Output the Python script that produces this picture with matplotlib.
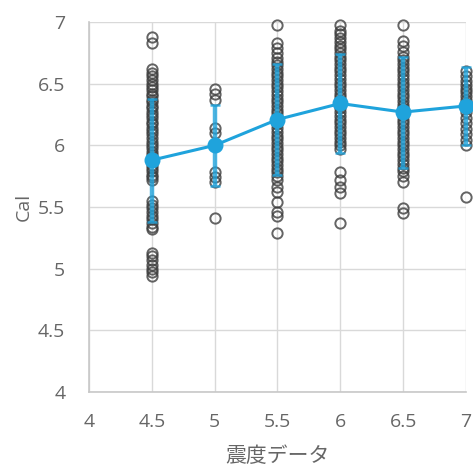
import matplotlib
matplotlib.use("Agg")
import matplotlib.pyplot as plt

# Seismic intensity groups and the Cal readings recorded in each
intensity = [4.5, 5.0, 5.5, 6.0, 6.5, 7.0]

cal_45 = [6.88, 6.83, 6.62, 6.59, 6.56, 6.53, 6.50, 6.47, 6.45, 6.42, 6.40, 6.37,
          6.35, 6.32, 6.30, 6.27, 6.25, 6.22, 6.19, 6.17, 6.14, 6.12, 6.09, 6.06,
          6.03, 6.00, 5.98, 5.95, 5.92, 5.90, 5.87, 5.84, 5.82, 5.79, 5.76, 5.74,
          5.72, 5.55, 5.52, 5.49, 5.46, 5.43, 5.40, 5.37, 5.34, 5.32,
          5.13, 5.10, 5.07, 5.03, 5.00, 4.97, 4.94]
cal_50 = [6.46, 6.42, 6.37, 6.14, 6.10, 6.00, 5.78, 5.74, 5.70, 5.41]
cal_55 = [6.98, 6.83, 6.79, 6.75, 6.71, 6.68, 6.65, 6.62, 6.59, 6.56, 6.53, 6.50,
          6.47, 6.44, 6.41, 6.38, 6.35, 6.32, 6.29, 6.26, 6.23, 6.20, 6.17, 6.14,
          6.11, 6.08, 6.05, 6.02, 5.99, 5.96, 5.93, 5.90, 5.87, 5.84, 5.81, 5.78,
          5.75, 5.72, 5.66, 5.62, 5.54, 5.46, 5.43, 5.29]
cal_60 = [6.98, 6.93, 6.90, 6.87, 6.84, 6.81, 6.78, 6.75, 6.72, 6.69, 6.66, 6.63,
          6.60, 6.57, 6.54, 6.51, 6.48, 6.45, 6.42, 6.39, 6.36, 6.33, 6.30, 6.27,
          6.24, 6.21, 6.18, 6.15, 6.12, 6.09, 6.06, 6.03, 6.00, 5.97,
          5.78, 5.72, 5.66, 5.61, 5.37]
cal_65 = [6.98, 6.85, 6.81, 6.76, 6.72, 6.69, 6.66, 6.63, 6.60, 6.57, 6.54, 6.51,
          6.48, 6.45, 6.42, 6.39, 6.36, 6.33, 6.30, 6.27, 6.24, 6.21, 6.18, 6.15,
          6.12, 6.09, 6.06, 6.03, 6.00, 5.97, 5.94, 5.91, 5.88, 5.85, 5.82,
          5.79, 5.75, 5.70, 5.49, 5.45]
cal_70 = [6.60, 6.56, 6.52, 6.49, 6.46, 6.43, 6.40, 6.37, 6.34, 6.30, 6.27, 6.22,
          6.18, 6.13, 6.09, 6.04, 6.00, 5.58]
cal_groups = [cal_45, cal_50, cal_55, cal_60, cal_65, cal_70]

# Group means and standard deviations
cal_mean = [5.88, 6.00, 6.21, 6.34, 6.27, 6.32]
cal_sd = [0.50, 0.33, 0.45, 0.40, 0.45, 0.32]

x_ticks = [4, 4.5, 5, 5.5, 6, 6.5, 7]
y_ticks = [4, 4.5, 5, 5.5, 6, 6.5, 7]
x_tick_labels = ["4", "4.5", "5", "5.5", "6", "6.5", "7"]
y_tick_labels = ["4", "4.5", "5", "5.5", "6", "6.5", "7"]

blue = "#1fa3dc"
grey_text = "#666666"

fig = plt.figure(figsize=(4.73, 4.71), dpi=100)
ax = fig.add_axes([0.188, 0.168, 0.797, 0.785])

for xv, vals in zip(intensity, cal_groups):
    ax.plot([xv] * len(vals), vals, linestyle="none", marker="o",
            markersize=7.4, markerfacecolor="none", markeredgecolor="#3d3d3d",
            markeredgewidth=1.4, alpha=0.8, zorder=2, clip_on=False)

ax.errorbar(intensity, cal_mean, yerr=cal_sd, fmt="none", ecolor=blue,
            elinewidth=3.2, capsize=3.5, capthick=1.8, alpha=0.8, zorder=3,
            clip_on=False)
ax.plot(intensity, cal_mean, color=blue, linewidth=2.2, marker="o",
        markersize=10.5, markerfacecolor=blue, markeredgecolor=blue, zorder=4,
        clip_on=False)

ax.set_xlim(4, 7)
ax.set_ylim(4, 7)
ax.set_xticks(x_ticks)
ax.set_xticklabels(x_tick_labels)
ax.set_yticks(y_ticks)
ax.set_yticklabels(y_tick_labels)
ax.grid(True, color="#d9d9d9", linewidth=1.0)
ax.set_axisbelow(True)
for side in ["top", "right"]:
    ax.spines[side].set_visible(False)
for side in ["left", "bottom"]:
    ax.spines[side].set_color("#c8c8c8")
    ax.spines[side].set_linewidth(1.2)
ax.tick_params(axis="x", length=0, pad=15, labelsize=14, colors=grey_text)
ax.tick_params(axis="y", length=0, pad=17, labelsize=14, colors=grey_text)
for lab in ax.get_xticklabels() + ax.get_yticklabels():
    lab.set_family(["Open Sans", "DejaVu Sans"])

ax.set_xlabel("震度データ", fontsize=15, color=grey_text,
              family=["Noto Sans CJK JP", "DejaVu Sans"], labelpad=10)
ax.set_ylabel("Cal", fontsize=14, color=grey_text,
              family=["Open Sans", "DejaVu Sans"], labelpad=4)

fig.savefig("out.png", dpi=100)
